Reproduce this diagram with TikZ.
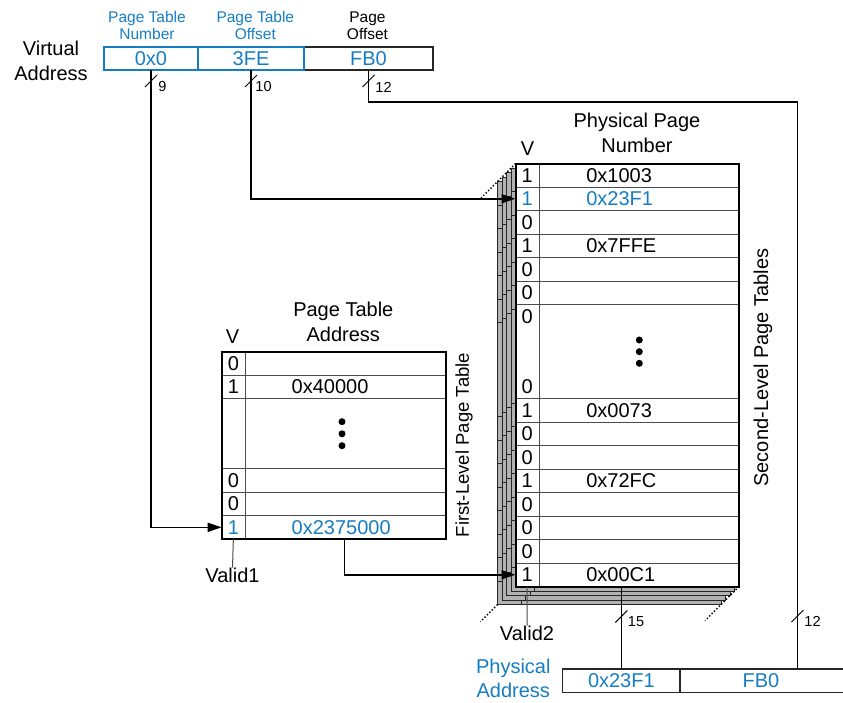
\documentclass[tikz,border=0pt]{standalone}
\usepackage{fontspec}
\setmainfont{Liberation Sans}
\usetikzlibrary{arrows.meta}
\definecolor{pblue}{RGB}{22,125,195}
\begin{document}
\begin{tikzpicture}[x=1pt,y=-1pt,
  every node/.style={inner sep=0pt, outer sep=0pt},
  big/.style={font=\fontsize{20}{25}\selectfont},
  small/.style={font=\fontsize{15.5}{17.7}\selectfont},
  tiny/.style={font=\fontsize{14.5}{16}\selectfont},
  frame/.style={draw=black, line width=2pt},
  rowline/.style={draw=black!70, line width=1pt},
  conn/.style={draw=black, line width=1.6pt},
  arr/.style={conn, -{Triangle[length=14pt,width=9pt]}},
  thinline/.style={draw=black!70, line width=1pt},
  vcellA/.style={anchor=north west, minimum width=23.3pt, minimum height=23.4125pt, big},
  vcellB/.style={anchor=north west, minimum width=23.5pt, minimum height=23.5pt, big},
  val/.style={anchor=west, big},
  layer/.style={fill=black!30, draw=black!85, line width=0.8pt},
  layerline/.style={draw=black!85, line width=0.8pt},
  dotline/.style={dotted, line width=1.4pt},
  addrA/.style={draw=pblue, line width=2pt, anchor=north west, minimum height=23pt, big, text=pblue},
  addrB/.style={draw=black!85, line width=1.5pt, anchor=north west, minimum height=23.3pt, big, text=pblue},
]
\useasboundingbox (0,0) rectangle (843,702);

% ---------- virtual address ----------
\node[small, align=center, text=pblue] (lptn) at (147,25.5) {Page Table\\Number};
\node[small, align=center, text=pblue] (lpto) at (255.3,25.5) {Page Table\\Offset};
\node[small, align=center] (lpo) at (367.5,25.6) {Page\\Offset};
\node[big, align=center] (lva) at (51,61.2) {Virtual\\Address};
\node[addrB, minimum height=23pt, minimum width=129pt] (va3) at (304,47) {FB0};
\node[addrA, minimum width=94pt] (va1) at (104,47) {0x0};
\node[addrA, minimum width=106pt] (va2) at (198,47) {3FE};

% ---------- second-level tables (stack) ----------
\foreach \k in {4,3,2,1} {
  \begin{scope}[shift={(-4.5*\k,4.5*\k)}]
    \draw[layer] (515.5,163.5) rectangle (739,586.5);
    \draw[layerline] (539,163.5) -- (539,586.5);
    \foreach \yy in {187,210.5,234,257.5,281,304.5,398.5,422,445.5,469,492.5,516,539.5,563}
      \draw[layerline] (515.5,\yy) -- (539,\yy);
  \end{scope}
}
\node[frame, fill=white, anchor=north west, minimum width=223.5pt, minimum height=423pt] (slt) at (515.5,163.5) {};
\draw[dotline] (slt.north west) -- ++(-34.5,34.5);
\draw[dotline] (497.5,604.5) -- ++(-17,17);
\draw[dotline] (slt.south east) -- ++(-34,34);
\foreach \yy in {187,210.5,234,257.5,281,304.5,398.5,422,445.5,469,492.5,516,539.5,563}
  \draw[rowline] (515.5,\yy) -- (739,\yy);
\draw[rowline] (539,163.5) -- (539,586.5);
\draw[frame] (slt.north west) rectangle (slt.south east);

\node[vcellB] (s1) at (515.5,163.5) {1};
\node[vcellB, text=pblue] (s2) at (515.5,187) {1};
\node[vcellB] (s3) at (515.5,210.5) {0};
\node[vcellB] (s4) at (515.5,234) {1};
\node[vcellB] (s5) at (515.5,257.5) {0};
\node[vcellB] (s6) at (515.5,281) {0};
\node[vcellB, minimum height=94pt] (s7) at (515.5,304.5) {};
\node[big] (s7a) at (527.25,316.25) {0};
\node[big] (s7b) at (527.25,386.75) {0};
\node[vcellB] (s8) at (515.5,398.5) {1};
\node[vcellB] (s9) at (515.5,422) {0};
\node[vcellB] (s10) at (515.5,445.5) {0};
\node[vcellB] (s11) at (515.5,469) {1};
\node[vcellB] (s12) at (515.5,492.5) {0};
\node[vcellB] (s13) at (515.5,516) {0};
\node[vcellB] (s14) at (515.5,539.5) {0};
\node[vcellB] (s15) at (515.5,563) {1};
\node[val] (d1) at (586.3,175.25) {0x1003};
\node[val, text=pblue] (d2) at (586.3,198.75) {0x23F1};
\node[val] (d4) at (586.3,245.75) {0x7FFE};
\node[val] (d8) at (586.3,410.25) {0x0073};
\node[val] (d11) at (586.3,480.75) {0x72FC};
\node[val] (d15) at (586.3,574.75) {0x00C1};
\fill (639.3,340) circle (3.5pt);
\fill (639.3,351.7) circle (3.5pt);
\fill (639.3,363.3) circle (3.5pt);

\node[big] (lv2) at (527.5,148.3) {V};
\node[big, align=center] (lppn) at (637,133.2) {Physical Page\\Number};
\node[big, rotate=90] (lslt) at (763,367.5) {Second-Level Page Tables};

% ---------- first-level table ----------
\node[frame, fill=white, anchor=north west, minimum width=224pt, minimum height=187.3pt] (flt) at (221.7,351.7) {};
\foreach \yy in {375.1,398.5,468.8,492.2,515.6}
  \draw[rowline] (221.7,\yy) -- (445.7,\yy);
\draw[rowline] (245,351.7) -- (245,539);
\draw[frame] (flt.north west) rectangle (flt.south east);
\node[vcellA] (f1) at (221.7,351.7) {0};
\node[vcellA] (f2) at (221.7,375.1) {1};
\node[vcellA, minimum height=70.3pt] (f3) at (221.7,398.5) {};
\node[vcellA] (f4) at (221.7,468.8) {0};
\node[vcellA] (f5) at (221.7,492.2) {0};
\node[vcellA, text=pblue] (f6) at (221.7,515.6) {1};
\node[val] (g2) at (291.7,386.8) {0x40000};
\node[val, text=pblue] (g6) at (291.7,527.3) {0x2375000};
\fill (342,421.7) circle (3.5pt);
\fill (342,433.8) circle (3.5pt);
\fill (342,445.7) circle (3.5pt);
\node[big] (lv1) at (232.5,336.5) {V};
\node[big, align=center] (lpta) at (343.3,321.9) {Page Table\\Address};
\node[font=\fontsize{18.5}{20}\selectfont, rotate=90] (lflt) at (464,445) {First-Level Page Table};

% ---------- physical address ----------
\node[addrB, minimum width=117.3pt] (pa1) at (562.7,669) {0x23F1};
\node[addrB, minimum width=180pt] (pa2) at (680,669) {};
\node[big, text=pblue] (pa2t) at (761,680.7) {FB0};
\node[big, align=center, text=pblue, font=\fontsize{20}{24}\selectfont] (lpa) at (513.3,678.5) {Physical\\Address};

% ---------- labels ----------
\node[big] (lvalid1) at (232.5,575) {Valid1};
\node[big] (lvalid2) at (527,633) {Valid2};

% ---------- connectors ----------
\draw[arr] (va1.south) |- (f6.west);
\draw[arr] (va2.south) |- (s2.west);
\coordinate (fbc) at (797.5,102);
\draw[conn] (va3.south) |- (fbc) -- (fbc |- pa2.north);
\draw[arr] ([xshift=3.5pt]g6.center |- flt.south) |- (s15.west);
\draw[conn] (pa1.north |- slt.south) -- (pa1.north);
\draw[thinline] (f6.south) -- (lvalid1.north);
\draw[thinline] (s15.south) -- (lvalid2.north);

% ---------- bus width marks ----------
\foreach \sx/\sy in {151/81, 251/81, 368.5/81, 797.5/616, 621.35/616.5}
  \draw[line width=1pt] (\sx-6,\sy+6) -- (\sx+6,\sy-6);
\node[tiny] (b9) at (162.5,87) {9};
\node[tiny] (b10) at (263.5,87) {10};
\node[tiny] (b12a) at (383.5,87) {12};
\node[tiny] (b12b) at (812.5,621) {12};
\node[tiny] (b15) at (636,621.7) {15};
\end{tikzpicture}
\end{document}
